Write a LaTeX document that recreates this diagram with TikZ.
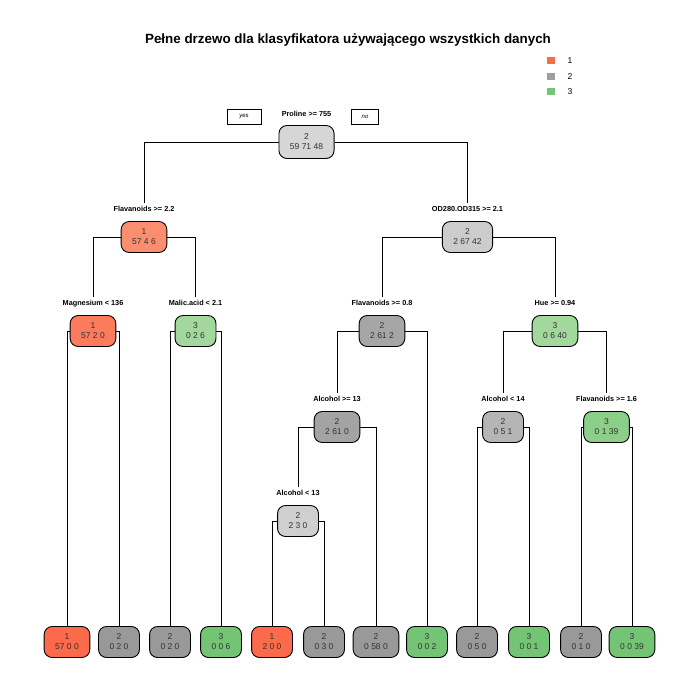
\documentclass[tikz,border=0pt]{standalone}
\usepackage{fontspec}
\setmainfont{Liberation Sans}
\usetikzlibrary{positioning}

\definecolor{redleaf}{HTML}{FB6A4A}
\definecolor{redmid}{HTML}{FC8E70}
\definecolor{reddark}{HTML}{FB7B5C}
\definecolor{grayleaf}{HTML}{999999}
\definecolor{grayroot}{HTML}{D6D6D6}
\definecolor{grayod}{HTML}{CCCCCC}
\definecolor{grayflav}{HTML}{A6A6A6}
\definecolor{grayalc}{HTML}{A3A3A3}
\definecolor{graylow}{HTML}{CFCFCF}
\definecolor{grayhue}{HTML}{B5B5B5}
\definecolor{greenleaf}{HTML}{74C476}
\definecolor{greenlight}{HTML}{A3D89C}
\definecolor{greenmid}{HTML}{8BCF89}
\definecolor{legred}{HTML}{FB6A4A}
\definecolor{leggray}{HTML}{9E9E9E}
\definecolor{leggreen}{HTML}{74C476}

\tikzset{
  tbox/.style={draw, rounded corners=8pt, line width=0.9pt, inner xsep=11pt,
    inner ysep=0pt, minimum height=31pt, align=center,
    font=\fontsize{8.5}{10}\selectfont, text=black!80},
  splitlab/.style={font=\fontsize{7.3}{8}\selectfont\bfseries, inner xsep=1pt,
    inner ysep=3pt, text height=5.3pt, text depth=1.6pt},
  yesno/.style={draw, line width=0.7pt, inner sep=0pt, minimum height=15pt,
    font=\fontsize{6}{7}\selectfont\itshape},
  legsq/.style={inner sep=0pt, minimum width=8pt, minimum height=7pt},
  leglab/.style={font=\fontsize{8.5}{10}\selectfont, inner sep=0pt}
}

\begin{document}
\begin{tikzpicture}[x=1pt, y=-1pt, line width=0.9pt]
\useasboundingbox (0,0) rectangle (700,700);

% title and legend
\node (title) at (348,40) {\fontsize{13.4}{16}\selectfont\bfseries Pełne drzewo dla klasyfikatora używającego wszystkich danych};
\node[legsq, fill=legred] (k1) at (550.5,61) {};
\node[legsq, fill=leggray] (k2) at (550.5,77) {};
\node[legsq, fill=leggreen] (k3) at (550.5,92) {};
\node[leglab] (t1) at (570,61) {1};
\node[leglab] (t2) at (570,77) {2};
\node[leglab] (t3) at (570,92) {3};

% root
\node[tbox, fill=grayroot, minimum height=33pt] (n0) at (306.5,142) {2\\59 71 48};
\node[splitlab, above=3pt of n0] (s0) {Proline >= 755};
\node[yesno, minimum width=34pt] (yes) at (244,117) {yes};
\node[yesno, minimum width=27pt] (no) at (365,116.5) {no};

% left branch
\node[tbox, fill=redmid] (nL) at (144,237) {1\\57 4 6};
\node[splitlab, above=4.5pt of nL] (sL) {Flavanoids >= 2.2};
\node[tbox, fill=reddark] (nLL) at (93,331) {1\\57 2 0};
\node[splitlab, above=4.5pt of nLL] (sLL) {Magnesium < 136};
\node[tbox, fill=greenlight] (nLR) at (195.5,331) {3\\0 2 6};
\node[splitlab, above=4.5pt of nLR] (sLR) {Malic.acid < 2.1};

% right branch
\node[tbox, fill=grayod] (nR) at (467.5,237) {2\\2 67 42};
\node[splitlab, above=4.5pt of nR] (sR) {OD280.OD315 >= 2.1};
\node[tbox, fill=grayflav] (nRL) at (382,331) {2\\2 61 2};
\node[splitlab, above=4.5pt of nRL] (sRL) {Flavanoids >= 0.8};
\node[tbox, fill=greenlight] (nRR) at (555,331) {3\\0 6 40};
\node[splitlab, above=4.5pt of nRR] (sRR) {Hue >= 0.94};
\node[tbox, fill=grayalc] (nRLL) at (337,427) {2\\2 61 0};
\node[splitlab, above=4.5pt of nRLL] (sRLL) {Alcohol >= 13};
\node[tbox, fill=graylow] (nRLLL) at (298,521) {2\\2 3 0};
\node[splitlab, above=4.5pt of nRLLL] (sRLLL) {Alcohol < 13};
\node[tbox, fill=grayhue] (nRRL) at (503,427) {2\\0 5 1};
\node[splitlab, above=4.5pt of nRRL] (sRRL) {Alcohol < 14};
\node[tbox, fill=greenmid] (nRRR) at (606.5,427) {3\\0 1 39};
\node[splitlab, above=4.5pt of nRRR] (sRRR) {Flavanoids >= 1.6};

% leaves
\node[tbox, fill=redleaf] (l1) at (67,642) {1\\57 0 0};
\node[tbox, fill=grayleaf] (l2) at (119,642) {2\\0 2 0};
\node[tbox, fill=grayleaf] (l3) at (170,642) {2\\0 2 0};
\node[tbox, fill=greenleaf] (l4) at (221,642) {3\\0 0 6};
\node[tbox, fill=redleaf] (l5) at (272,642) {1\\2 0 0};
\node[tbox, fill=grayleaf] (l6) at (324,642) {2\\0 3 0};
\node[tbox, fill=grayleaf] (l7) at (376,642) {2\\0 58 0};
\node[tbox, fill=greenleaf] (l8) at (427,642) {3\\0 0 2};
\node[tbox, fill=grayleaf] (l9) at (477,642) {2\\0 5 0};
\node[tbox, fill=greenleaf] (l10) at (529,642) {3\\0 0 1};
\node[tbox, fill=grayleaf] (l11) at (581,642) {2\\0 1 0};
\node[tbox, fill=greenleaf] (l12) at (632,642) {3\\0 0 39};

% branches
\draw (n0.west) -| (sL.north);
\draw (n0.east) -| (sR.north);
\draw (nL.west) -| (sLL.north);
\draw (nL.east) -| (sLR.north);
\draw (nLL.west) -| (l1.north);
\draw (nLL.east) -| (l2.north);
\draw (nLR.west) -| (l3.north);
\draw (nLR.east) -| (l4.north);
\draw (nR.west) -| (sRL.north);
\draw (nR.east) -| (sRR.north);
\draw (nRL.west) -| (sRLL.north);
\draw (nRL.east) -| (l8.north);
\draw (nRLL.west) -| (sRLLL.north);
\draw (nRLL.east) -| (l7.north);
\draw (nRLLL.west) -| (l5.north);
\draw (nRLLL.east) -| (l6.north);
\draw (nRR.west) -| (sRRL.north);
\draw (nRR.east) -| (sRRR.north);
\draw (nRRL.west) -| (l9.north);
\draw (nRRL.east) -| (l10.north);
\draw (nRRR.west) -| (l11.north);
\draw (nRRR.east) -| (l12.north);
\end{tikzpicture}
\end{document}
